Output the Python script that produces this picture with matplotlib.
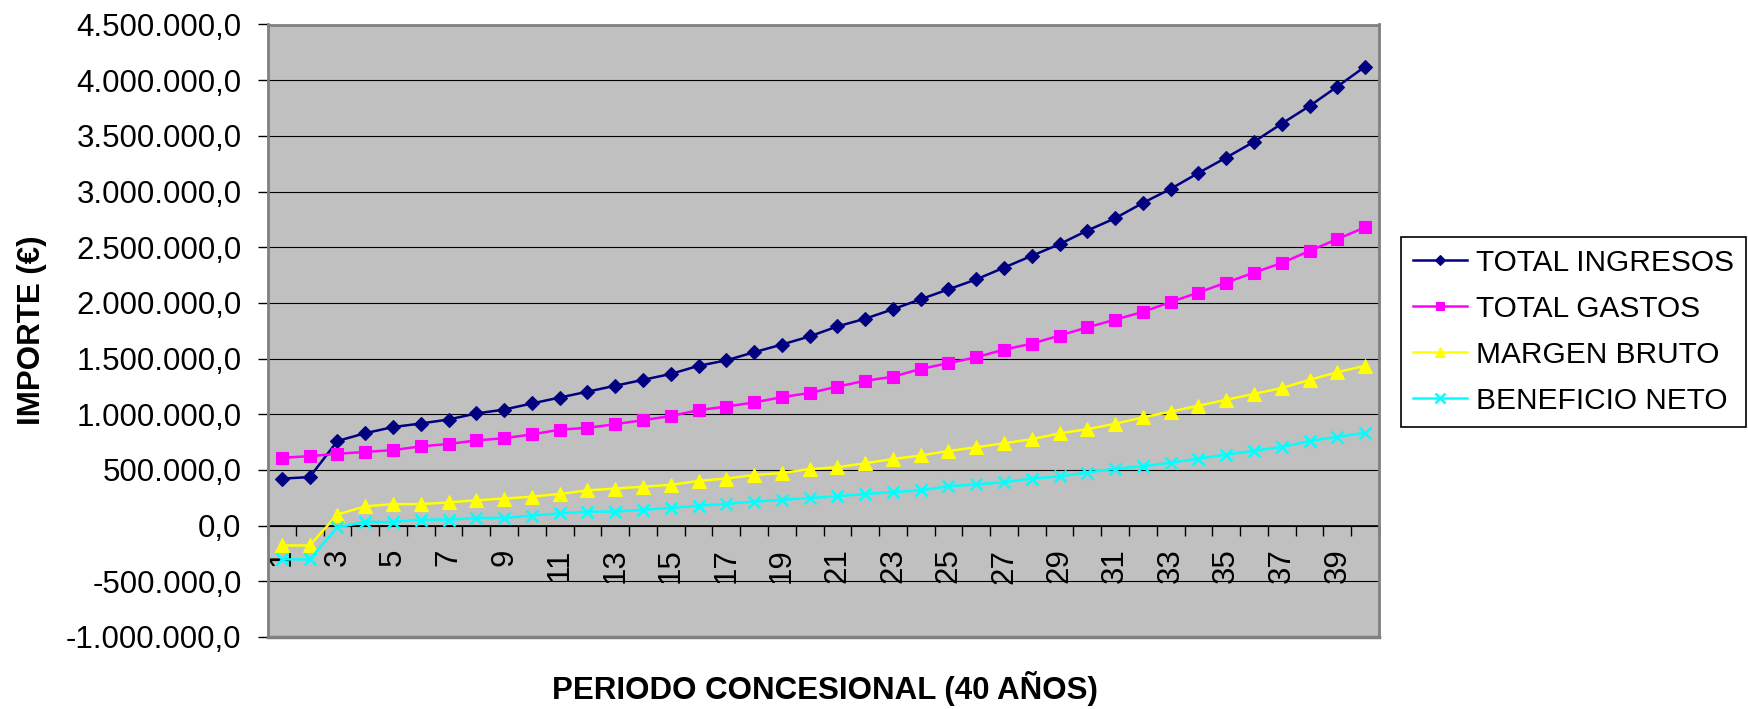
import matplotlib
matplotlib.use("Agg")
import matplotlib.pyplot as plt
from matplotlib.ticker import FixedLocator, FuncFormatter

plt.rcParams['font.family'] = ['Liberation Sans', 'DejaVu Sans']

anios = list(range(1, 41))

total_ingresos = [
    422000, 436000, 760000, 830000, 885000, 917000, 953000, 1007000, 1042000, 1097000,
    1150000, 1203000, 1256000, 1309000, 1362000, 1435000, 1484000, 1557000, 1626000, 1699000,
    1789000, 1858000, 1943000, 2033000, 2122000, 2211000, 2317000, 2423000, 2528000, 2650000,
    2760000, 2898000, 3024000, 3167000, 3305000, 3447000, 3610000, 3768000, 3943000, 4122000,
]
total_gastos = [
    609000, 624000, 645000, 662000, 678000, 712000, 733000, 765000, 785000, 819000,
    862000, 878000, 911000, 947000, 984000, 1037000, 1069000, 1106000, 1154000, 1191000,
    1248000, 1301000, 1337000, 1407000, 1459000, 1512000, 1581000, 1634000, 1707000, 1780000,
    1850000, 1919000, 2008000, 2093000, 2183000, 2272000, 2358000, 2467000, 2573000, 2679000,
]
margen_bruto = [
    -178000, -178000, 100000, 173000, 193000, 193000, 209000, 228000, 243000, 260000,
    285000, 317000, 333000, 350000, 366000, 402000, 423000, 455000, 472000, 508000,
    524000, 561000, 598000, 630000, 671000, 703000, 740000, 776000, 829000, 866000,
    915000, 972000, 1024000, 1077000, 1130000, 1183000, 1236000, 1309000, 1378000, 1435000,
]
beneficio_neto = [
    -303000, -303000, -15000, 33000, 33000, 54000, 54000, 69000, 69000, 90000,
    110000, 126000, 126000, 142000, 159000, 179000, 195000, 215000, 232000, 248000,
    264000, 285000, 301000, 317000, 354000, 370000, 390000, 423000, 443000, 476000,
    512000, 533000, 565000, 602000, 638000, 671000, 707000, 760000, 797000, 833000,
]

series = [
    ('TOTAL INGRESOS', total_ingresos, '#000080', 'D', 7),
    ('TOTAL GASTOS', total_gastos, '#FF00FF', 's', 8),
    ('MARGEN BRUTO', margen_bruto, '#FFFF00', '^', 9.5),
    ('BENEFICIO NETO', beneficio_neto, '#00FFFF', 'x', 9),
]


def formato_es(v, pos=None):
    s = f"{v:,.1f}"
    return s.replace(',', '#').replace('.', ',').replace('#', '.')


fig = plt.figure(figsize=(17.49, 7.09), dpi=100)
ax = fig.add_axes([268 / 1749, 72 / 709, 1111 / 1749, 612.5 / 709])
ax.set_facecolor('#C0C0C0')

for nombre, valores, color, marca, tam in series:
    ax.plot(anios, valores, color=color, lw=1.8, marker=marca, markersize=tam,
            markeredgewidth=1.8 if marca == 'x' else 0.8, markeredgecolor=color,
            label=nombre, zorder=3)

ax.set_xlim(0.5, 40.5)
ax.set_ylim(-1000000, 4500000)

yticks = list(range(-1000000, 4500001, 500000))
ax.yaxis.set_major_locator(FixedLocator(yticks))
ax.yaxis.set_major_formatter(FuncFormatter(formato_es))
ax.yaxis.grid(True, color='black', lw=0.8, zorder=1)
ax.set_axisbelow(True)
ax.tick_params(axis='y', direction='out', length=7, width=1, pad=12,
               labelsize=22.5, color='black')

# eje x cruzando en cero, marcas entre categorias, etiquetas en años impares
ax.spines['bottom'].set_position(('data', 0))
ax.spines['bottom'].set_color('black')
ax.spines['bottom'].set_linewidth(1.2)
ax.spines['bottom'].set_zorder(2)
ax.xaxis.set_major_locator(FixedLocator([i + 0.5 for i in range(0, 41)]))
ax.xaxis.set_major_formatter(FuncFormatter(lambda v, p: ''))
ax.xaxis.set_minor_locator(FixedLocator(anios[::2]))
ax.xaxis.set_minor_formatter(FuncFormatter(lambda v, p: str(int(v))))
ax.tick_params(axis='x', which='major', direction='out', length=7, width=1, color='black')
ax.tick_params(axis='x', which='minor', length=0, pad=16.5, labelsize=22.5,
               labelrotation=90)
for lbl in ax.xaxis.get_minorticklabels():
    lbl.set_verticalalignment('top')

for lado in ['top', 'right', 'left']:
    ax.spines[lado].set_color('#808080')
    ax.spines[lado].set_linewidth(2)
ax.axhline(-1000000, color='#808080', lw=2.5, clip_on=False, zorder=2)

fig.text(32 / 1749, 1 - 330 / 709, 'IMPORTE (€)', rotation=90, ha='center', va='center',
         fontsize=22.5, fontweight='bold')
fig.text(825 / 1749, 1 - 689 / 709, 'PERIODO CONCESIONAL (40 AÑOS)', ha='center', va='center',
         fontsize=22.5, fontweight='bold')

leg = fig.legend(loc='upper left', bbox_to_anchor=(1401 / 1749, 1 - 237 / 709),
                 bbox_transform=fig.transFigure, fontsize=21.5, frameon=True,
                 fancybox=False, edgecolor='black', framealpha=1,
                 handlelength=1.8, handletextpad=0.3, labelspacing=0.6,
                 borderpad=0.4, borderaxespad=0)
leg.get_frame().set_linewidth(1.2)
for h in leg.legend_handles:
    h.set_markersize(h.get_markersize() * 0.8)

fig.savefig('out.png', dpi=100)
